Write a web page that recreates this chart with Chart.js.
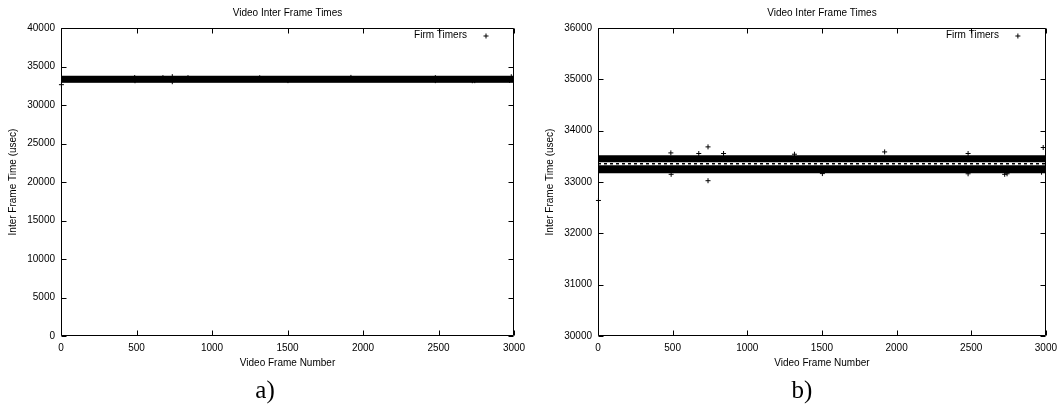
<!doctype html>
<html lang="en">
<head>
<meta charset="utf-8">
<title>Video Inter Frame Times</title>
<style>
  * { margin: 0; padding: 0; }
  body { width: 1063px; height: 405px; background: #fff; position: relative; overflow: hidden; }
  .panel { position: absolute; top: 0; height: 405px; }
  #panelA { left: 0; width: 537px; }
  #panelB { left: 537px; width: 526px; }
  .tag {
    position: absolute; top: 377px; width: 60px; text-align: center;
    font-family: "Liberation Serif", "Times New Roman", serif;
    font-size: 25px; line-height: 25px; color: #000;
  }
</style>
</head>
<body>
  <div class="panel" id="panelA"><canvas id="chartA" width="537" height="405"></canvas></div>
  <div class="panel" id="panelB"><canvas id="chartB" width="526" height="405"></canvas></div>
  <div class="tag" style="left: 235px">a)</div>
  <div class="tag" style="left: 772px">b)</div>

<script src="https://cdn.jsdelivr.net/npm/chart.js"></script>
<script>
  // frames covered by the run
  const frameRange = [0, 3000];
  // almost every inter frame time falls in one of two tight clusters (usec)
  const upperCluster = [33434, 33473];
  const lowerCluster = [33219, 33277];
  // a few values land between the two clusters
  const middleValue = 33356;

  // frames that stray outside the clusters
  const strayFrames = [3, 488, 490, 675, 737, 737, 841, 1316, 1503, 1920, 2479, 2479, 2724, 2740, 2971, 2982];
  const strayTimes = [32640, 33567, 33150, 33555, 33684, 33025, 33555, 33541, 33164, 33586, 33555, 33160, 33150, 33160, 33190, 33672];

  // y ranges of the two plots
  const rangeA = [0, 40000], stepA = 5000;
  const rangeB = [30000, 36000], stepB = 1000;
  const frameStep = 500;

  const font = { family: "'Liberation Sans', Arial, Helvetica, sans-serif", size: 10, weight: 'normal' };
  Chart.defaults.color = '#000';
  Chart.defaults.font = font;

  const plotLeft = 61, plotRight = 514, plotBottom = 336;

  // gnuplot style box with inward ticks on all four sides, plus the key
  const framePlugin = {
    id: 'frame',
    afterDraw(chart) {
      const { ctx, chartArea: a, scales: { x, y } } = chart;
      const L = Math.round(a.left) + 0.5, R = Math.round(a.right) - 0.5;
      const T = Math.round(a.top) + 0.5, B = Math.round(a.bottom) - 0.5;
      const tl = 5;
      ctx.save();
      ctx.strokeStyle = '#000';
      ctx.lineWidth = 1;
      ctx.beginPath();
      ctx.rect(L, T, R - L, B - T);
      x.ticks.forEach(t => {
        const px = Math.round(x.getPixelForValue(t.value)) + 0.5;
        ctx.moveTo(px, B); ctx.lineTo(px, B - tl);
        ctx.moveTo(px, T); ctx.lineTo(px, T + tl);
      });
      y.ticks.forEach(t => {
        const py = Math.round(y.getPixelForValue(t.value)) + 0.5;
        ctx.moveTo(L, py); ctx.lineTo(L + tl, py);
        ctx.moveTo(R, py); ctx.lineTo(R - tl, py);
      });
      ctx.stroke();

      // key
      const ds = chart.data.datasets[0];
      ctx.font = font.size + 'px ' + font.family;
      ctx.fillStyle = '#000';
      ctx.textAlign = 'right';
      ctx.textBaseline = 'middle';
      ctx.fillText(ds.label, a.right - 47, a.top + 7);
      const cx = a.right - 28, cy = a.top + 8, r = 2.5;
      ctx.beginPath();
      ctx.moveTo(cx - r, cy); ctx.lineTo(cx + r, cy);
      ctx.moveTo(cx, cy - r); ctx.lineTo(cx, cy + r);
      ctx.stroke();
      ctx.restore();
    }
  };

  function edge(v) {
    return frameRange.map(f => ({ x: f, y: v }));
  }

  function clusterLine(v, fill) {
    return {
      type: 'line',
      data: edge(v),
      borderColor: '#000',
      backgroundColor: '#000',
      borderWidth: 5,
      pointRadius: 0,
      fill: fill
    };
  }

  function makeChart(id, range, step, width) {
    const strays = strayFrames.map((f, i) => ({ x: f, y: strayTimes[i] }));
    return new Chart(document.getElementById(id), {
      type: 'scatter',
      data: {
        datasets: [
          {
            label: 'Firm Timers',
            data: strays,
            pointStyle: 'cross',
            pointRadius: 2.5,
            borderColor: '#000',
            borderWidth: 1,
            clip: 4
          },
          clusterLine(upperCluster[1], '+1'),
          clusterLine(upperCluster[0], false),
          clusterLine(lowerCluster[1], '+1'),
          clusterLine(lowerCluster[0], false),
          {
            type: 'line',
            data: edge(middleValue),
            borderColor: '#000',
            borderWidth: 1.5,
            borderDash: [3, 3],
            pointRadius: 0,
            fill: false
          }
        ]
      },
      options: {
        responsive: false,
        animation: false,
        events: [],
        layout: { padding: { left: 0, right: width - plotRight, top: 0, bottom: 0 } },
        plugins: {
          legend: { display: false },
          tooltip: { enabled: false },
          title: {
            display: true,
            text: 'Video Inter Frame Times',
            fullSize: false,
            color: '#000',
            font: font,
            padding: { top: 7, bottom: 9 }
          }
        },
        scales: {
          x: {
            type: 'linear',
            min: frameRange[0],
            max: frameRange[1],
            ticks: { stepSize: frameStep, padding: 6, maxRotation: 0, color: '#000', format: { useGrouping: false } },
            grid: { display: false, drawTicks: false },
            border: { display: false },
            title: { display: true, text: 'Video Frame Number', color: '#000', padding: { top: 0, bottom: 36 } },
            afterFit: s => { s.height = 405 - plotBottom; }
          },
          y: {
            type: 'linear',
            min: range[0],
            max: range[1],
            ticks: { stepSize: step, padding: 6, color: '#000', format: { useGrouping: false } },
            grid: { display: false, drawTicks: false },
            border: { display: false },
            title: { display: true, text: 'Inter Frame Time (usec)', color: '#000', padding: { top: 7, bottom: 0 } },
            afterFit: s => { s.width = plotLeft; }
          }
        }
      },
      plugins: [framePlugin]
    });
  }

  makeChart('chartA', rangeA, stepA, 537);
  makeChart('chartB', rangeB, stepB, 526);
</script>
</body>
</html>
